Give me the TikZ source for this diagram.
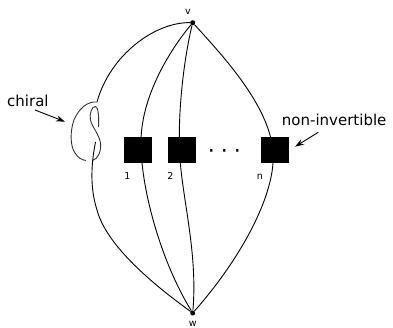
\documentclass[tikz,border=0pt]{standalone}
\usepackage{fontspec}
\setmainfont{DejaVu Sans}
\usetikzlibrary{arrows.meta}
\begin{document}
\begin{tikzpicture}[x=1pt,y=-1pt,
  vertex/.style={circle,fill=black,inner sep=0pt,minimum size=5pt},
  blk/.style={fill=black,inner sep=0pt,minimum width=28pt,minimum height=26pt},
  edge/.style={line width=0.9pt},
  knotline/.style={line width=0.9pt,draw=black!80},
  lbl/.style={font=\fontsize{9.5}{11}\selectfont,inner sep=0pt,anchor=base},
  big/.style={font=\fontsize{15}{18}\selectfont,inner sep=0pt,anchor=base west},
  pointer/.style={line width=0.9pt,-{Stealth[length=9pt,width=6pt]}}]
\useasboundingbox (0,0) rectangle (393,328);

% vertices
\node[vertex] (v) at (192.7,22.7) {};
\node[vertex] (w) at (192.7,313) {};
\node[lbl] (vl) at (188,15) {v};
\node[lbl] (wl) at (192.7,326.5) {w};

% through points
\coordinate (k0) at (97,102);
\coordinate (kb) at (95.5,142);
\coordinate (p1) at (141,140);
\coordinate (p2) at (179.5,150);
\coordinate (pn) at (273,150);

% leftmost strand with knot
\draw[edge] (v) .. controls (155,22) and (110,55) .. (k0);
\draw[knotline] (k0) .. controls (88,101) and (79,108) .. (74,120)
  .. controls (70,131) and (70,146) .. (75,153)
  .. controls (78,158) and (82,160) .. (86,160.5);
\draw[knotline] (98.5,127) .. controls (99,118) and (98.5,107) .. (95.5,106.5)
  .. controls (92,106) and (89,114) .. (90.5,120)
  .. controls (92,127) and (99,134) .. (100.5,143)
  .. controls (101.5,151) and (98,159) .. (92.5,160.5);
\draw[edge] (kb) .. controls (92,160) and (89,185) .. (97,210)
  .. controls (105,240) and (140,275) .. (w);

% other strands
\draw[edge] (v) .. controls (170,50) and (142,95) .. (p1)
  .. controls (140,185) and (160,260) .. (w);
\draw[edge] (v) .. controls (186,50) and (178,100) .. (p2)
  .. controls (181,195) and (198,250) .. (w);
\draw[edge] (v) .. controls (225,58) and (268,105) .. (pn)
  .. controls (277,195) and (238,262) .. (w);

% boxes
\node[blk] (b1) at (138,150) {};
\node[blk] (b2) at (182,150) {};
\node[blk] (bn) at (275,150) {};
\node[lbl] (l1) at (127.5,179.3) {1};
\node[lbl] (l2) at (170.5,179.3) {2};
\node[lbl] (ln) at (260,179.3) {n};
\node[font=\fontsize{22}{24}\selectfont,inner sep=0pt,anchor=base] (dots) at (224.3,158.8) {·\hspace{6pt}·\hspace{6pt}·};

% annotations
\node[big] (chiral) at (7,106.5) {chiral};
\coordinate (chiralTip) at (65,121.7);
\draw[pointer] (35,110) -- (chiralTip);
\node[big] (ninv) at (281.7,125.5) {non-invertible};
\coordinate (ninvTip) at (295,146.7);
\draw[pointer] (318.3,132.3) -- (ninvTip);
\end{tikzpicture}
\end{document}
